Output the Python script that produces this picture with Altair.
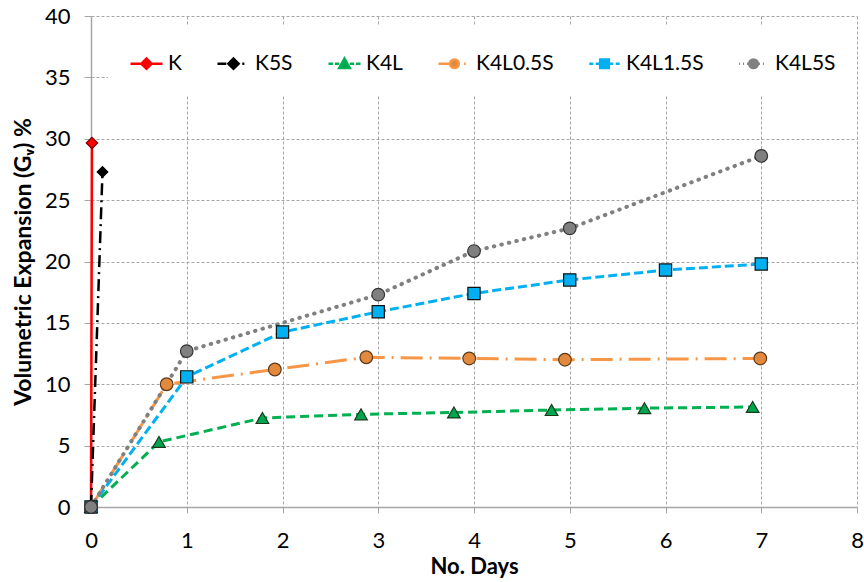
import altair as alt
import pandas as pd

# ---------------- data ----------------
series = ["K", "K5S", "K4L", "K4L0.5S", "K4L1.5S", "K4L5S"]

k_days = [0.0, 0.01]
k_vals = [0.0, 29.65]

k5s_days = [0.0, 0.12]
k5s_vals = [0.0, 27.3]

k4l_days = [0.0, 0.71, 1.79, 2.82, 3.79, 4.81, 5.78, 6.91]
k4l_vals = [0.0, 5.3, 7.25, 7.55, 7.7, 7.9, 8.05, 8.15]

k4l05_days = [0.0, 0.79, 1.92, 2.875, 3.95, 4.95, 6.99]
k4l05_vals = [0.0, 10.0, 11.2, 12.2, 12.1, 12.0, 12.1]

k4l15_days = [0, 1, 2, 3, 4, 5, 6, 7]
k4l15_vals = [0.0, 10.6, 14.25, 15.9, 17.4, 18.5, 19.3, 19.8]

k4l5_days = [0, 1, 3, 4, 5, 7]
k4l5_vals = [0.0, 12.7, 17.3, 20.85, 22.7, 28.6]

x_ticks = [0, 1, 2, 3, 4, 5, 6, 7, 8]
y_ticks = [0, 5, 10, 15, 20, 25, 30, 35, 40]

all_days = [k_days, k5s_days, k4l_days, k4l05_days, k4l15_days, k4l5_days]
all_vals = [k_vals, k5s_vals, k4l_vals, k4l05_vals, k4l15_vals, k4l5_vals]

rows = []
for name, xs, ys in zip(series, all_days, all_vals):
    for xv, yv in zip(xs, ys):
        rows.append({"series": name, "day": xv, "val": yv})
df = pd.DataFrame(rows)

# ---------------- styles ----------------
FONT = "Lato"
styles = {
    "K":       dict(line="#FF0000", dash=[1, 0], width=2.5, cap="butt",
                    shape="diamond", fill="#FF0000", edge="#7a0000", size=130),
    "K5S":     dict(line="#000000", dash=[12, 5, 2, 5], width=2.5, cap="butt",
                    shape="diamond", fill="#000000", edge="#000000", size=110),
    "K4L":     dict(line="#00B050", dash=[9, 5], width=3, cap="butt",
                    shape="triangle-up", fill="#00A550", edge="#1a3a1a", size=160),
    "K4L0.5S": dict(line="#F79646", dash=[22, 7, 2, 7], width=3, cap="butt",
                    shape="circle", fill="#E3893E", edge="#5a3a1a", size=160),
    "K4L1.5S": dict(line="#00B0F0", dash=[9, 4], width=3, cap="butt",
                    shape="square", fill="#00B0F0", edge="#111111", size=150),
    "K4L5S":   dict(line="#808080", dash=[0.5, 7.2], width=4, cap="round",
                    shape="circle", fill="#808080", edge="#333333", size=160),
}

# legend symbols: line stub + marker (unit box [-1, 1])
diamond = "M0,-0.32L0.32,0L0,0.32L-0.32,0Z"
tri = "M0,-0.32L0.33,0.26L-0.33,0.26Z"
circ = "M0.27,0A0.27,0.27 0 1,1 -0.27,0A0.27,0.27 0 1,1 0.27,0Z"
sq = "M-0.27,-0.27H0.27V0.27H-0.27Z"
legend_paths = [
    "M-1,0H-0.32M0.32,0H1" + diamond,
    "M-1,0H-0.45M0.55,0H0.68" + diamond,
    "M-1,0H-0.72M-0.6,0H-0.33M0.33,0H0.6M0.72,0H1" + tri,
    "M-1,0H-0.3M0.6,0H0.7" + circ,
    "M-0.95,0H-0.7M-0.55,0H-0.3M0.3,0H0.55M0.7,0H0.95" + sq,
    "M-0.9,0H-0.84M-0.65,0H-0.59M-0.4,0H-0.34M0.34,0H0.4M0.59,0H0.65" + circ,
]

x_scale = alt.Scale(domain=[0, 8], nice=False, zero=False)
y_scale = alt.Scale(domain=[0, 40], nice=False)

grid_color = "#a6a6a6"
x_axis = alt.Axis(values=x_ticks, title="No. Days", grid=True, gridColor=grid_color,
                  gridDash=[3, 2], gridWidth=1, domainColor="#a6a6a6", domainWidth=1.5,
                  tickColor="#a6a6a6", tickSize=6, labelFont=FONT, labelFontSize=22,
                  labelColor="#000000", labelPadding=17, labelFlush=False,
                  titleFont=FONT, titleFontSize=22, titleFontWeight="bold",
                  titleColor="#000000", titlePadding=5, format="d")
y_axis = alt.Axis(values=y_ticks, title="Volumetric Expansion (G\u1d65) %", grid=True,
                  gridColor=grid_color, gridDash=[3, 2], gridWidth=1, domainColor="#a6a6a6",
                  domainWidth=1.5, tickColor="#a6a6a6", tickSize=7, labelFont=FONT,
                  labelFontSize=22, labelColor="#000000", labelPadding=14, labelFlush=False,
                  titleFont=FONT, titleFontSize=23, titleFontWeight="bold",
                  titleColor="#000000", titlePadding=9, format="d")

enc_x = alt.X("day:Q", scale=x_scale, axis=x_axis)
enc_y = alt.Y("val:Q", scale=y_scale, axis=y_axis)

base = alt.Chart(df)

line_layers = []
point_layers = []
for name in series:
    st = styles[name]
    sub = base.transform_filter(alt.datum.series == name)
    line_layers.append(
        sub.mark_line(color=st["line"], strokeDash=st["dash"], strokeWidth=st["width"],
                      strokeCap=st["cap"], clip=False)
        .encode(x=enc_x, y=enc_y, order="day:Q")
    )
    point_layers.append(
        sub.mark_point(shape=st["shape"], filled=True, fill=st["fill"], stroke=st["edge"],
                       strokeWidth=1.2, size=st["size"], opacity=1)
        .encode(x=enc_x, y=enc_y)
    )

legend_cfg = dict(title=None, orient="none", legendX=17, legendY=9, direction="horizontal",
                  columns=6, columnPadding=30, labelFont=FONT, labelFontSize=21,
                  labelColor="#000000", labelOffset=4, symbolSize=1024, symbolStrokeWidth=2.5,
                  fillColor="white", padding=21, symbolOpacity=1)

fills = [styles[s]["fill"] for s in series]
strokes = [styles[s]["line"] for s in series]

legend_layer = (
    base.transform_filter("false")
    .mark_point(filled=True, opacity=1, strokeWidth=2.5)
    .encode(
        x=enc_x,
        y=enc_y,
        shape=alt.Shape("series:N", scale=alt.Scale(domain=series, range=legend_paths),
                        legend=alt.Legend(**legend_cfg)),
        fill=alt.Fill("series:N", scale=alt.Scale(domain=series, range=fills),
                      legend=alt.Legend(**legend_cfg)),
        stroke=alt.Stroke("series:N", scale=alt.Scale(domain=series, range=strokes),
                          legend=alt.Legend(**legend_cfg)),
    )
)

chart = (
    alt.layer(*line_layers, *point_layers, legend_layer)
    .properties(width=766, height=491,
                autosize=alt.AutoSizeParams(type="none"),
                padding={"left": 91, "top": 16, "right": 7, "bottom": 75},
                background="white")
    .configure_view(stroke=None)
)

chart.save("out.html", embed_options={"renderer": "svg", "actions": False})
